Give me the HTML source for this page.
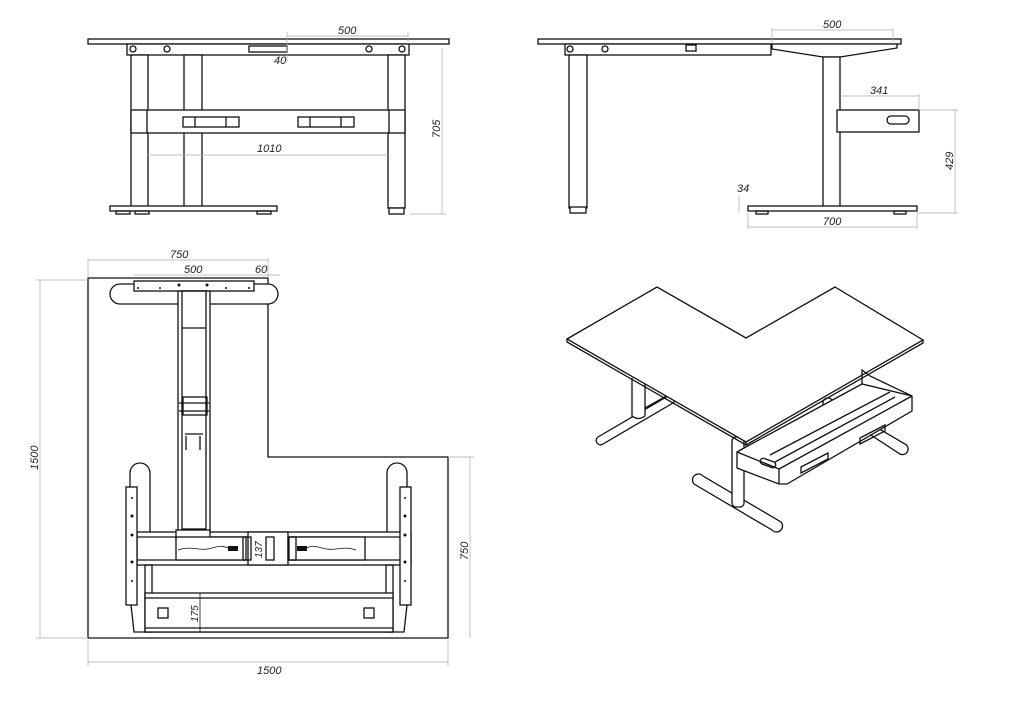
<!DOCTYPE html>
<html><head><meta charset="utf-8"><style>
html,body{margin:0;padding:0;background:#fff}
svg{display:block}
.l{fill:none;stroke:#111;stroke-width:1.3}
.t{fill:none;stroke:#111;stroke-width:0.8}
.d{fill:none;stroke:#aaa;stroke-width:0.7}
.w{fill:#fff;stroke:#111;stroke-width:1.3}
text{font-family:"Liberation Sans",sans-serif;font-style:italic;font-size:11px;fill:#222}
</style></head><body>
<svg width="1012" height="717" viewBox="0 0 1012 717" xmlns="http://www.w3.org/2000/svg">
<!-- FRONT VIEW -->
<rect class="w" x="88" y="39" width="361" height="5"/>
<rect class="w" x="127" y="44" width="282" height="11"/>
<rect class="w" x="249" y="46" width="38" height="6"/>
<circle class="l" cx="133" cy="49" r="3"/><circle class="l" cx="167" cy="49" r="3"/>
<circle class="l" cx="369" cy="49" r="3"/><circle class="l" cx="402" cy="49" r="3"/>
<rect class="w" x="131" y="55" width="17" height="153"/>
<rect class="w" x="184" y="55" width="18" height="153"/>
<rect class="w" x="388" y="55" width="17" height="153"/>
<rect class="w" x="131" y="110" width="274" height="23"/>
<line class="l" x1="147" y1="110" x2="147" y2="133"/><line class="l" x1="389" y1="110" x2="389" y2="133"/>
<rect class="w" x="183" y="117" width="56" height="10"/><line class="l" x1="195" y1="117" x2="195" y2="127"/><line class="l" x1="226" y1="117" x2="226" y2="127"/>
<rect class="w" x="298" y="117" width="56" height="10"/><line class="l" x1="310" y1="117" x2="310" y2="127"/><line class="l" x1="341" y1="117" x2="341" y2="127"/>
<rect class="w" x="110" y="206" width="167" height="5"/>
<rect class="l" x="116" y="211" width="14" height="3"/><rect class="l" x="135" y="211" width="14" height="3"/><rect class="l" x="257" y="211" width="14" height="3"/>
<rect class="w" x="389" y="208" width="15" height="6"/>
<line class="d" x1="287" y1="36" x2="408" y2="36"/><line class="d" x1="287" y1="32" x2="287" y2="62"/><line class="d" x1="408" y1="32" x2="408" y2="44"/>
<text x="338" y="34">500</text><text x="274" y="64">40</text>
<line class="d" x1="147" y1="155" x2="388" y2="155"/><text x="257" y="152">1010</text>
<line class="d" x1="442" y1="48" x2="442" y2="214"/><line class="d" x1="410" y1="214" x2="446" y2="214"/>
<text transform="translate(440,138) rotate(-90)">705</text>
<!-- SIDE VIEW -->
<rect class="w" x="538" y="39" width="363" height="5"/>
<rect class="w" x="565" y="44" width="206" height="11"/>
<circle class="l" cx="570" cy="49" r="3"/><circle class="l" cx="605" cy="49" r="3"/>
<rect class="w" x="686" y="45" width="10" height="6"/>
<path class="w" d="M772 44 L897 44 L897 48 L840 57 L823 57 L772 49 Z"/>
<rect class="w" x="569" y="55" width="18" height="153"/>
<rect class="w" x="570" y="207" width="16" height="6"/>
<rect class="w" x="823" y="57" width="17" height="150"/>
<rect class="w" x="837" y="110" width="82" height="22"/>
<rect class="l" x="887" y="116" width="22" height="8" rx="4"/>
<rect class="w" x="748" y="206" width="169" height="5"/>
<rect class="l" x="756" y="211" width="12" height="3"/><rect class="l" x="894" y="211" width="12" height="3"/>
<line class="d" x1="772" y1="30" x2="893" y2="30"/><line class="d" x1="772" y1="28" x2="772" y2="44"/><line class="d" x1="893" y1="28" x2="893" y2="44"/>
<text x="823" y="28">500</text>
<line class="d" x1="840" y1="96" x2="919" y2="96"/><line class="d" x1="919" y1="94" x2="919" y2="110"/><text x="870" y="94">341</text>
<line class="d" x1="955" y1="110" x2="955" y2="213"/><line class="d" x1="919" y1="110" x2="958" y2="110"/><line class="d" x1="917" y1="213" x2="958" y2="213"/>
<text transform="translate(953,170) rotate(-90)">429</text>
<line class="d" x1="739" y1="195" x2="739" y2="212"/><text x="737" y="192">34</text>
<line class="d" x1="748" y1="227" x2="917" y2="227"/><line class="d" x1="748" y1="213" x2="748" y2="229"/><line class="d" x1="917" y1="213" x2="917" y2="229"/>
<text x="823" y="225">700</text>
<!-- PLAN VIEW -->
<path class="l" d="M88 278 L268 278 L268 457 L448 457 L448 638 L88 638 Z"/>
<line class="d" x1="88" y1="260" x2="268" y2="260"/><line class="d" x1="88" y1="258" x2="88" y2="278"/><line class="d" x1="268" y1="258" x2="268" y2="278"/>
<text x="170" y="258">750</text>
<line class="d" x1="134" y1="275" x2="280" y2="275"/><text x="184" y="273">500</text><text x="255" y="273">60</text>
<line class="d" x1="40" y1="280" x2="40" y2="638"/><line class="d" x1="36" y1="280" x2="88" y2="280"/><line class="d" x1="36" y1="638" x2="88" y2="638"/>
<text transform="translate(38,470) rotate(-90)">1500</text>
<line class="d" x1="470" y1="457" x2="470" y2="638"/><line class="d" x1="448" y1="457" x2="474" y2="457"/>
<text transform="translate(468,560) rotate(-90)">750</text>
<line class="d" x1="88" y1="662" x2="448" y2="662"/><line class="d" x1="88" y1="640" x2="88" y2="666"/><line class="d" x1="448" y1="640" x2="448" y2="666"/>
<text x="257" y="674">1500</text>
<rect class="w" x="110" y="284" width="168" height="20" rx="10"/>
<rect class="w" x="134" y="281" width="120" height="10"/>
<g fill="#111"><circle cx="138" cy="288" r="1"/><circle cx="160" cy="288" r="1"/><circle cx="179" cy="285" r="1.5"/><circle cx="207" cy="285" r="1.5"/><circle cx="226" cy="288" r="1"/><circle cx="249" cy="288" r="1"/></g>
<rect class="w" x="178" y="291" width="32" height="240"/>
<rect class="l" x="182" y="291" width="24" height="238"/>
<line class="l" x1="182" y1="328" x2="206" y2="328"/>
<rect class="l" x="183" y="397" width="24" height="18"/><line class="l" x1="179" y1="403" x2="209" y2="403"/><line class="l" x1="179" y1="411" x2="209" y2="411"/>
<path class="l" d="M186 436 L186 450 M200 436 L200 450 M185 434 L203 434"/>
<rect class="w" x="130" y="463" width="20" height="80" rx="10"/>
<rect class="w" x="387" y="463" width="20" height="80" rx="10"/>
<rect class="w" x="137" y="532" width="274" height="33"/>
<line class="l" x1="137" y1="537" x2="411" y2="537"/><line class="l" x1="137" y1="560" x2="411" y2="560"/>
<rect class="w" x="176" y="530" width="34" height="9"/>
<rect class="w" x="176" y="537" width="70" height="23"/><rect class="w" x="289" y="537" width="76" height="23"/>
<rect class="w" x="248" y="532" width="40" height="33"/>
<rect class="l" x="243" y="537" width="8" height="23"/><rect class="l" x="266" y="537" width="8" height="23"/><rect class="l" x="288" y="537" width="8" height="23"/>
<text transform="translate(262,558) rotate(-90)" style="font-size:10px">137</text>
<path class="t" d="M178 550 C192 545 200 552 212 548 S225 548 230 548"/><rect fill="#111" x="228" y="546" width="10" height="5"/>
<path class="t" d="M356 550 C342 545 335 552 322 548 S310 548 305 548"/><rect fill="#111" x="297" y="546" width="10" height="5"/>
<rect class="w" x="126" y="487" width="11" height="118"/><rect class="w" x="400" y="487" width="11" height="118"/>
<g fill="#111"><circle cx="132" cy="516" r="1.5"/><circle cx="132" cy="535" r="1.5"/><circle cx="132" cy="562" r="1.5"/><circle cx="132" cy="581" r="1"/><circle cx="132" cy="498" r="1"/>
<circle cx="405" cy="516" r="1.5"/><circle cx="405" cy="535" r="1.5"/><circle cx="405" cy="562" r="1.5"/><circle cx="405" cy="581" r="1"/><circle cx="405" cy="498" r="1"/></g>
<path class="l" d="M131 605 L134 632 L404 632 L407 605"/>
<rect class="l" x="145" y="565" width="7" height="67"/><rect class="l" x="386" y="565" width="7" height="67"/>
<rect class="w" x="145" y="593" width="248" height="39"/><line class="l" x1="145" y1="598" x2="393" y2="598"/><line class="l" x1="145" y1="628" x2="393" y2="628"/>
<line class="t" x1="200" y1="593" x2="200" y2="632"/>
<rect class="l" x="158" y="608" width="10" height="10"/><rect class="l" x="364" y="608" width="10" height="10"/>
<text transform="translate(198,622) rotate(-90)" style="font-size:10px">175</text>
<!-- ISOMETRIC -->
<path class="w" d="M598 437 L668 396 A4 4 0 0 1 673 403 L603 444 A4 4 0 0 1 598 437 Z"/>
<path class="l" d="M645 408 L672 393"/>
<path class="w" d="M632 378 L632 416 Q638 421 645 416 L645 384"/>
<path class="w" d="M694 484 L772 530 A5 5 0 0 0 781 522 L703 476 A5 5 0 0 0 694 484 Z"/>
<rect class="w" x="732" y="437" width="12" height="70" rx="4"/>
<path class="w" d="M823 404 A5 5 0 0 1 833 402 L905 444 A5 5 0 0 1 900 454 Z"/>
<path class="w" d="M567 339 L657 287 L746 338 L835 287 L923 340 L746 442 Z"/>
<path class="l" d="M567 339 L567 342 L746 445 L746 442 M746 445 L923 343 L923 340"/>
<path class="w" d="M737 452 L744 448 L862 384 L912 396 L912 411 L787 484 L779 484 L737 468 Z"/>
<path class="l" d="M737 452 L779 469 L779 484 M779 469 L912 396 M862 384 L862 370 L870 376 L912 396"/>
<path class="l" d="M770 455 L890 392 M775 462 L895 397"/>
<rect class="l" x="760" y="460" width="16" height="6" rx="3" transform="rotate(20 768 463)"/>
<path class="l" d="M801 467 L828 453 L828 459 L801 473 Z M860 438 L885 425 L885 431 L860 444 Z"/>
</svg>
</body></html>
